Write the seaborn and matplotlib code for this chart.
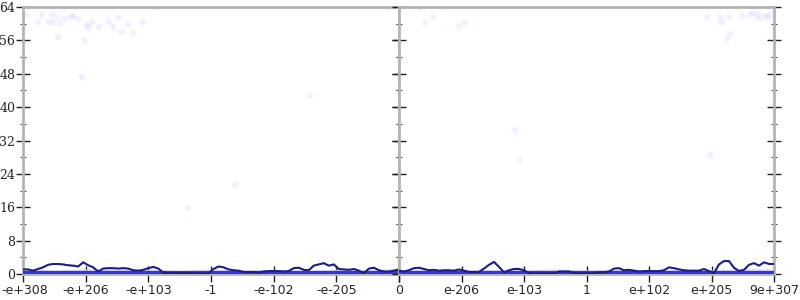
import numpy as np
import pandas as pd
import matplotlib
matplotlib.use("Agg")
import matplotlib.pyplot as plt
import matplotlib.transforms as mtrans
import seaborn as sns
from matplotlib.ticker import MultipleLocator

# ---- data -------------------------------------------------------------
left_labels = ["-e+308", "-e+206", "-e+103", "-1", "-e-102", "-e-205", "0"]
right_labels = ["", "e-206", "e-103", "1", "e+102", "e+205", "9e+307"]
y_ticks = [0, 8, 16, 24, 32, 40, 48, 56, 64]

left_err = [1.1, 1.1, 0.8, 1.2, 1.6, 2.2, 2.4, 2.4, 2.3, 2.1, 2.0, 1.8, 2.8, 2.1, 1.6, 0.6,
            1.3, 1.4, 1.4, 1.3, 1.4, 1.3, 0.9, 0.8, 1.0, 1.4, 1.7, 1.3, 0.3, 0.2, 0.2, 0.2,
            0.2, 0.2, 0.2, 0.15, 0.15, 0.15, 1.2, 1.8, 1.6, 1.1, 0.9, 0.8, 0.5, 0.4, 0.5, 0.3,
            0.6, 0.7, 0.7, 0.7, 0.6, 0.7, 1.4, 1.5, 1.0, 0.9, 2.0, 2.3, 2.6, 2.0, 2.3, 1.2,
            1.1, 1.0, 1.2, 0.8, 0.2, 1.3, 1.5, 0.9, 0.6, 0.6, 0.8, 1.1]
right_err = [0.8, 0.6, 0.9, 1.4, 1.5, 1.2, 0.9, 1.0, 0.8, 0.9, 0.9, 0.8, 1.1, 0.8, 0.5, 0.5,
             0.5, 1.3, 2.2, 2.9, 1.7, 0.4, 0.9, 1.2, 1.2, 0.9, 0.2, 0.15, 0.15, 0.15, 0.15, 0.15,
             0.6, 0.6, 0.6, 0.2, 0.15, 0.15, 0.15, 0.2, 0.4, 0.4, 0.6, 1.3, 1.4, 0.9, 1.0, 0.8,
             0.6, 0.7, 0.7, 0.7, 0.7, 0.9, 1.6, 1.4, 1.1, 0.9, 0.8, 0.8, 0.8, 1.2, 0.7, 0.2,
             2.3, 3.1, 3.1, 1.5, 0.7, 1.0, 2.2, 2.6, 2.0, 2.8, 2.4, 2.4]

left_band = [1.2, 1.0, 1.3, 1.1, 1.2, 0.9, 1.2, 1.0, 1.1, 0.9, 1.2, 1.0, 1.3]
right_band = [1.1, 1.2, 0.9, 1.1, 1.0, 1.2, 1.0, 1.1, 0.9, 1.2, 1.0, 1.3, 1.2]

left_pts_x = [0.06, 0.30, 0.46, 0.54, 0.24, 0.41, 0.48, 0.59, 0.67, 0.77, 0.80, 0.88, 1.02, 1.04,
              1.10, 1.21, 1.37, 1.44, 1.52, 1.58, 1.68, 1.76, 1.91, 0.56, 0.99, 0.94, 0.65, 2.06,
              2.14, 2.63, 4.58, 5.81, 3.38]
left_pts_y = [62.1, 62.1, 62.1, 61.6, 60.4, 60.4, 60.2, 60.2, 61.1, 61.6, 61.8, 61.1, 59.7, 59.0,
              60.4, 59.2, 60.4, 59.2, 61.4, 58.0, 59.7, 57.8, 60.4, 56.8, 55.8, 47.2, 64.0, 64.0,
              64.0, 15.8, 42.9, 63.8, 21.3]
right_pts_x = [0.34, 0.54, 0.42, 0.74, 0.96, 1.06, 4.93, 5.14, 5.17, 5.28, 5.50, 5.62, 5.66,
               5.74, 5.76, 5.86, 5.90, 5.94, 5.30, 5.25, 1.86, 1.94, 4.98, 0.02]
right_pts_y = [63.8, 61.6, 60.2, 63.8, 59.4, 60.2, 61.6, 61.6, 60.4, 61.6, 61.8, 62.1, 62.6,
               62.1, 61.4, 61.8, 61.6, 62.1, 57.5, 56.3, 34.5, 27.3, 28.5, 63.8]

# ---- style ------------------------------------------------------------
sns.set_theme(style="white")
plt.rcParams["font.family"] = ["DejaVu Sans"]

fig = plt.figure(figsize=(8, 3), dpi=100)
W, H = 800, 300
x0, xm, x1 = 23, 399, 774
ytop, ybot = 7, 274
ax1 = fig.add_axes([x0 / W, 1 - ybot / H, (xm - x0) / W, (ybot - ytop) / H])
ax2 = fig.add_axes([xm / W, 1 - ybot / H, (x1 - xm) / W, (ybot - ytop) / H])

line_col = "#1c1c8a"
band_col = "#c8c8f8"
base_col = "#3535e0"
pt_col = "#c8c8ff"

panels = [(ax1, left_err, left_band, left_pts_x, left_pts_y, left_labels),
          (ax2, right_err, right_band, right_pts_x, right_pts_y, right_labels)]

for i, (ax, err, band, px, py, labels) in enumerate(panels):
    xs = np.linspace(0, 6, len(err))
    xb = np.linspace(0, 6, len(band))
    ax.fill_between(xb, 0, band, color=band_col, alpha=0.7, lw=0, zorder=1)
    sns.scatterplot(x=px, y=py, ax=ax, color=pt_col, s=22, alpha=0.25, edgecolor="none",
                    zorder=2, legend=False)
    ax.axhline(0.15, color=base_col, lw=3, zorder=3)
    sns.lineplot(x=xs, y=err, ax=ax, color=line_col, lw=1.5, zorder=4)
    ax.set_xlim(0, 6)
    ax.set_ylim(0, 64)
    ax.set_xticks(range(7))
    ax.set_xticklabels(labels, fontsize=9, family="DejaVu Sans")
    ax.set_yticks(y_ticks)
    ax.yaxis.set_minor_locator(MultipleLocator(4))
    for s in ax.spines.values():
        s.set_color("#b4b4b4")
        s.set_linewidth(2)
        s.set_visible(True)
    ax.tick_params(axis="x", which="major", direction="inout", length=11, width=1,
                   color="#222222", pad=2, bottom=True, top=False)
    ax.tick_params(axis="y", which="major", direction="inout", length=10, width=1,
                   color="#222222", left=True, right=True)
    ax.tick_params(axis="y", which="minor", direction="inout", length=5, width=0.8,
                   color="#555555", left=True, right=True)
    ax.set_xlabel("")
    ax.set_ylabel("")
    ax.set_facecolor("white")
    ax.grid(False)
    if i == 0:
        ax.set_yticklabels([str(v) for v in y_ticks], family="DejaVu Serif", fontsize=9)
        ax.tick_params(axis="y", which="major", pad=0.5)
    else:
        ax.set_yticklabels([])

# keep the first and last x labels inside the figure
first = ax1.get_xticklabels()[0]
first.set_horizontalalignment("left")
first.set_transform(first.get_transform() + mtrans.ScaledTranslation(-22 / 100, 0, fig.dpi_scale_trans))
last = ax2.get_xticklabels()[-1]
last.set_horizontalalignment("right")
last.set_transform(last.get_transform() + mtrans.ScaledTranslation(25 / 100, 0, fig.dpi_scale_trans))

fig.savefig("out.png", dpi=100, facecolor="white")
